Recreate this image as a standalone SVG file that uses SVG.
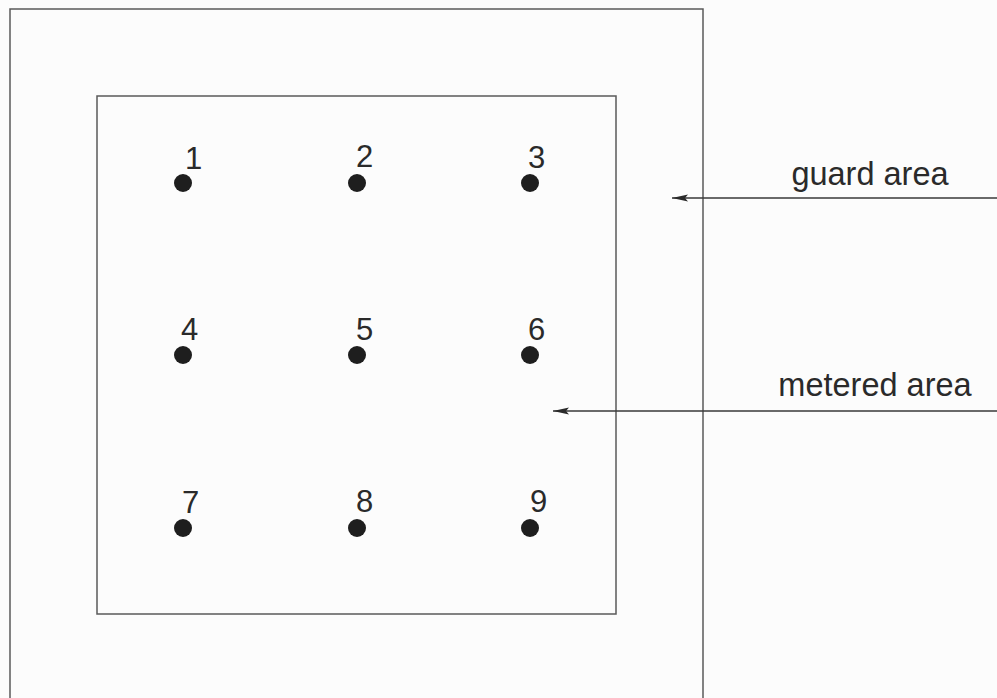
<svg xmlns="http://www.w3.org/2000/svg" width="997" height="698" viewBox="0 0 997 698">
<style>
.box{fill:none;stroke:#5a5a5a;stroke-width:1.5}
.dot{fill:#1e1e1e}
.num{font-family:"Liberation Sans",Arial,sans-serif;font-size:31px;fill:#2a2a2a}
.lbl{font-family:"Liberation Sans",Arial,sans-serif;font-size:32.5px;fill:#2a2a2a;text-anchor:middle}
.arr{stroke:#3a3a3a;stroke-width:1.6;fill:none}
</style>
<defs>
<marker id="ah" viewBox="0 0 16 8" refX="16" refY="4" markerWidth="16" markerHeight="8" markerUnits="userSpaceOnUse" orient="auto">
<path d="M16,4 L0,0.5 L3,4 L0,7.5 Z" fill="#2a2a2a"/>
</marker>
</defs>
<rect width="997" height="698" fill="#fcfcfc"/>
<g id="guard">
<path class="box" d="M10,702 L10,9 L703,9 L703,702"/>
</g>
<g id="metered">
<rect class="box" x="97" y="96" width="519" height="518"/>
</g>
<g id="p1"><circle class="dot" cx="183" cy="183" r="9"/><text class="num" x="185" y="169">1</text></g>
<g id="p2"><circle class="dot" cx="357" cy="183" r="9"/><text class="num" x="356" y="167">2</text></g>
<g id="p3"><circle class="dot" cx="530" cy="183" r="9"/><text class="num" x="528" y="168">3</text></g>
<g id="p4"><circle class="dot" cx="183" cy="355" r="9"/><text class="num" x="181" y="340">4</text></g>
<g id="p5"><circle class="dot" cx="357" cy="355" r="9"/><text class="num" x="356" y="340">5</text></g>
<g id="p6"><circle class="dot" cx="530" cy="355" r="9"/><text class="num" x="528" y="340">6</text></g>
<g id="p7"><circle class="dot" cx="183" cy="528" r="9"/><text class="num" x="182" y="513">7</text></g>
<g id="p8"><circle class="dot" cx="357" cy="528" r="9"/><text class="num" x="356" y="512">8</text></g>
<g id="p9"><circle class="dot" cx="530" cy="528" r="9"/><text class="num" x="530" y="512">9</text></g>
<g id="labels">
<text class="lbl" x="870" y="185">guard area</text>
<text class="lbl" x="875" y="396">metered area</text>
</g>
<g id="connectors">
<line class="arr" x1="997" y1="198" x2="672" y2="198" marker-end="url(#ah)"/>
<line class="arr" x1="997" y1="411" x2="553" y2="411" marker-end="url(#ah)"/>
</g>
</svg>
